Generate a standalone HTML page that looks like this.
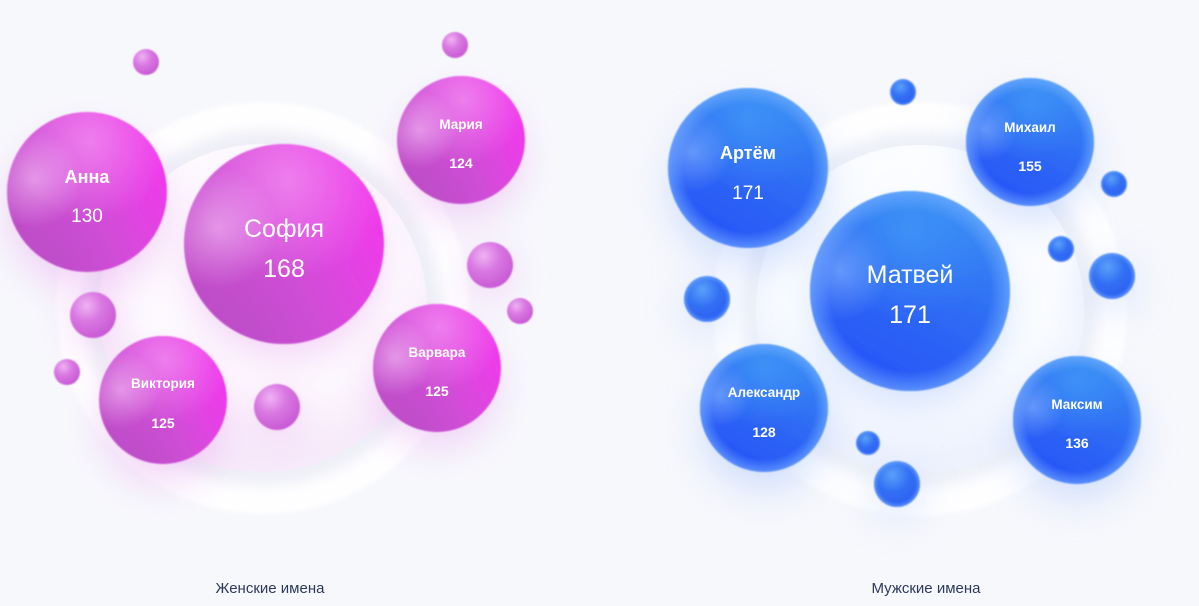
<!DOCTYPE html>
<html>
<head>
<meta charset="utf-8">
<style>
html,body{margin:0;padding:0;background:#f7f8fc;}
svg{display:block;}
text{font-family:"Liberation Sans","DejaVu Sans",sans-serif;fill:#fff;text-anchor:middle;}
.lbl{fill:#2d3a5e;font-size:15px;}
</style>
</head>
<body>
<svg width="1199" height="606" viewBox="0 0 1199 606" xmlns="http://www.w3.org/2000/svg">
<defs>
  <filter id="blur2" x="-20%" y="-20%" width="140%" height="140%"><feGaussianBlur stdDeviation="2"/></filter>
  <filter id="blur5" x="-20%" y="-20%" width="140%" height="140%"><feGaussianBlur stdDeviation="6"/></filter>
  <filter id="glow" x="-60%" y="-60%" width="220%" height="220%"><feGaussianBlur stdDeviation="20"/></filter>
  <filter id="soft" x="-10%" y="-10%" width="120%" height="120%"><feGaussianBlur stdDeviation="0.7"/></filter>

  <radialGradient id="discL" cx="0.5" cy="0.35" r="0.6">
    <stop offset="0" stop-color="#ffffff"/>
    <stop offset="0.7" stop-color="#fdf9fe"/>
    <stop offset="1" stop-color="#f7ebfa"/>
  </radialGradient>
  <radialGradient id="discR" cx="0.5" cy="0.35" r="0.6">
    <stop offset="0" stop-color="#ffffff"/>
    <stop offset="0.7" stop-color="#fafcff"/>
    <stop offset="1" stop-color="#edf2fd"/>
  </radialGradient>

  <!-- magenta -->
  <linearGradient id="mBase" x1="0.1" y1="0.8" x2="0.95" y2="0.35">
    <stop offset="0" stop-color="#c04ec8"/>
    <stop offset="0.45" stop-color="#d24fd8"/>
    <stop offset="1" stop-color="#ee3aea"/>
  </linearGradient>
  <radialGradient id="mHi1" cx="0.52" cy="0.18" r="0.5">
    <stop offset="0" stop-color="#f59bf3" stop-opacity="0.65"/>
    <stop offset="1" stop-color="#f59bf3" stop-opacity="0"/>
  </radialGradient>
  <radialGradient id="mHi2" cx="0.17" cy="0.42" r="0.3">
    <stop offset="0" stop-color="#f2c0f4" stop-opacity="0.6"/>
    <stop offset="1" stop-color="#f2c0f4" stop-opacity="0"/>
  </radialGradient>
  <radialGradient id="mLow" cx="0.35" cy="0.95" r="0.55">
    <stop offset="0" stop-color="#b548c4" stop-opacity="0.35"/>
    <stop offset="1" stop-color="#b548c4" stop-opacity="0"/>
  </radialGradient>
  <radialGradient id="smM" cx="0.36" cy="0.3" r="0.75">
    <stop offset="0" stop-color="#efb3f3"/>
    <stop offset="0.45" stop-color="#d978e2"/>
    <stop offset="1" stop-color="#c758d3"/>
  </radialGradient>

  <!-- blue -->
  <linearGradient id="bBase" x1="0.2" y1="0.95" x2="0.7" y2="0.05">
    <stop offset="0" stop-color="#2652f8"/>
    <stop offset="0.5" stop-color="#2d68f4"/>
    <stop offset="1" stop-color="#3585f4"/>
  </linearGradient>
  <radialGradient id="bHi1" cx="0.5" cy="0.2" r="0.45">
    <stop offset="0" stop-color="#44a0f8" stop-opacity="0.6"/>
    <stop offset="1" stop-color="#44a0f8" stop-opacity="0"/>
  </radialGradient>
  <radialGradient id="bHi2" cx="0.15" cy="0.4" r="0.25">
    <stop offset="0" stop-color="#8fbcff" stop-opacity="0.55"/>
    <stop offset="1" stop-color="#8fbcff" stop-opacity="0"/>
  </radialGradient>
  <radialGradient id="bRim" cx="0.5" cy="0.5" r="0.5">
    <stop offset="0" stop-color="#7ab4ff" stop-opacity="0"/>
    <stop offset="0.8" stop-color="#7ab4ff" stop-opacity="0"/>
    <stop offset="1" stop-color="#7ab4ff" stop-opacity="0.6"/>
  </radialGradient>
  <radialGradient id="smB" cx="0.4" cy="0.3" r="0.75">
    <stop offset="0" stop-color="#5aa0fa"/>
    <stop offset="0.5" stop-color="#326ff3"/>
    <stop offset="1" stop-color="#2b5ef2"/>
  </radialGradient>
</defs>

<rect width="1199" height="606" fill="#f7f8fc"/>

<!-- Left disc -->
<circle cx="263" cy="308" r="206" fill="#fefeff" filter="url(#blur2)"/>
<circle cx="263" cy="308" r="178" fill="#eff0f7" filter="url(#blur5)"/>
<circle cx="263" cy="308" r="164" fill="url(#discL)"/>

<!-- Right disc -->
<circle cx="920" cy="309" r="207" fill="#fefeff" filter="url(#blur2)"/>
<circle cx="920" cy="309" r="178" fill="#eef1f8" filter="url(#blur5)"/>
<circle cx="920" cy="309" r="164" fill="url(#discR)"/>

<!-- Glows left -->
<g filter="url(#glow)" fill="#e9a8f0" opacity="0.5">
  <circle cx="284" cy="262" r="95"/>
  <circle cx="87" cy="212" r="78"/>
  <circle cx="461" cy="158" r="60"/>
  <circle cx="163" cy="420" r="62"/>
  <circle cx="437" cy="386" r="60"/>
  <circle cx="93" cy="325" r="22"/>
  <circle cx="277" cy="417" r="22"/>
  <circle cx="490" cy="275" r="22"/>
</g>
<!-- Glows right -->
<g filter="url(#glow)" fill="#a9c4fb" opacity="0.5">
  <circle cx="910" cy="309" r="95"/>
  <circle cx="748" cy="188" r="78"/>
  <circle cx="1030" cy="160" r="60"/>
  <circle cx="764" cy="428" r="62"/>
  <circle cx="1077" cy="440" r="60"/>
  <circle cx="707" cy="309" r="22"/>
  <circle cx="897" cy="494" r="22"/>
  <circle cx="1112" cy="286" r="22"/>
</g>

<!-- Magenta small balls -->
<g filter="url(#soft)">
  <circle cx="146" cy="62" r="13" fill="url(#smM)"/>
  <circle cx="455" cy="45" r="13" fill="url(#smM)"/>
  <circle cx="490" cy="265" r="23" fill="url(#smM)"/>
  <circle cx="520" cy="311" r="13" fill="url(#smM)"/>
  <circle cx="93" cy="315" r="23" fill="url(#smM)"/>
  <circle cx="67" cy="372" r="13" fill="url(#smM)"/>
  <circle cx="277" cy="407" r="23" fill="url(#smM)"/>
</g>

<!-- Magenta bubbles -->
<g filter="url(#soft)">
  <g>
    <circle cx="284" cy="244" r="100" fill="url(#mBase)"/>
    <circle cx="284" cy="244" r="100" fill="url(#mLow)"/>
    <circle cx="284" cy="244" r="100" fill="url(#mHi1)"/>
    <circle cx="284" cy="244" r="100" fill="url(#mHi2)"/>
  </g>
  <g>
    <circle cx="87" cy="192" r="80" fill="url(#mBase)"/>
    <circle cx="87" cy="192" r="80" fill="url(#mLow)"/>
    <circle cx="87" cy="192" r="80" fill="url(#mHi1)"/>
    <circle cx="87" cy="192" r="80" fill="url(#mHi2)"/>
  </g>
  <g>
    <circle cx="461" cy="140" r="64" fill="url(#mBase)"/>
    <circle cx="461" cy="140" r="64" fill="url(#mLow)"/>
    <circle cx="461" cy="140" r="64" fill="url(#mHi1)"/>
    <circle cx="461" cy="140" r="64" fill="url(#mHi2)"/>
  </g>
  <g>
    <circle cx="163" cy="400" r="64" fill="url(#mBase)"/>
    <circle cx="163" cy="400" r="64" fill="url(#mLow)"/>
    <circle cx="163" cy="400" r="64" fill="url(#mHi1)"/>
    <circle cx="163" cy="400" r="64" fill="url(#mHi2)"/>
  </g>
  <g>
    <circle cx="437" cy="368" r="64" fill="url(#mBase)"/>
    <circle cx="437" cy="368" r="64" fill="url(#mLow)"/>
    <circle cx="437" cy="368" r="64" fill="url(#mHi1)"/>
    <circle cx="437" cy="368" r="64" fill="url(#mHi2)"/>
  </g>
</g>

<!-- Blue small balls -->
<g filter="url(#soft)">
  <circle cx="903" cy="92" r="13" fill="url(#smB)"/>
  <circle cx="1114" cy="184" r="13" fill="url(#smB)"/>
  <circle cx="1061" cy="249" r="13" fill="url(#smB)"/>
  <circle cx="1112" cy="276" r="23" fill="url(#smB)"/>
  <circle cx="707" cy="299" r="23" fill="url(#smB)"/>
  <circle cx="868" cy="443" r="12" fill="url(#smB)"/>
  <circle cx="897" cy="484" r="23" fill="url(#smB)"/>
  <circle cx="903" cy="92" r="13" fill="url(#bRim)"/>
  <circle cx="1114" cy="184" r="13" fill="url(#bRim)"/>
  <circle cx="1061" cy="249" r="13" fill="url(#bRim)"/>
  <circle cx="1112" cy="276" r="23" fill="url(#bRim)"/>
  <circle cx="707" cy="299" r="23" fill="url(#bRim)"/>
  <circle cx="868" cy="443" r="12" fill="url(#bRim)"/>
  <circle cx="897" cy="484" r="23" fill="url(#bRim)"/>
</g>

<!-- Blue bubbles -->
<g filter="url(#soft)">
  <g>
    <circle cx="910" cy="291" r="100" fill="url(#bBase)"/>
    <circle cx="910" cy="291" r="100" fill="url(#bHi1)"/>
    <circle cx="910" cy="291" r="100" fill="url(#bHi2)"/>
    <circle cx="910" cy="291" r="100" fill="url(#bRim)"/>
  </g>
  <g>
    <circle cx="748" cy="168" r="80" fill="url(#bBase)"/>
    <circle cx="748" cy="168" r="80" fill="url(#bHi1)"/>
    <circle cx="748" cy="168" r="80" fill="url(#bHi2)"/>
    <circle cx="748" cy="168" r="80" fill="url(#bRim)"/>
  </g>
  <g>
    <circle cx="1030" cy="142" r="64" fill="url(#bBase)"/>
    <circle cx="1030" cy="142" r="64" fill="url(#bHi1)"/>
    <circle cx="1030" cy="142" r="64" fill="url(#bHi2)"/>
    <circle cx="1030" cy="142" r="64" fill="url(#bRim)"/>
  </g>
  <g>
    <circle cx="764" cy="408" r="64" fill="url(#bBase)"/>
    <circle cx="764" cy="408" r="64" fill="url(#bHi1)"/>
    <circle cx="764" cy="408" r="64" fill="url(#bHi2)"/>
    <circle cx="764" cy="408" r="64" fill="url(#bRim)"/>
  </g>
  <g>
    <circle cx="1077" cy="420" r="64" fill="url(#bBase)"/>
    <circle cx="1077" cy="420" r="64" fill="url(#bHi1)"/>
    <circle cx="1077" cy="420" r="64" fill="url(#bHi2)"/>
    <circle cx="1077" cy="420" r="64" fill="url(#bRim)"/>
  </g>
</g>

<!-- Text magenta -->
<text x="284" y="237" font-size="25">София</text>
<text x="284" y="277" font-size="25">168</text>
<text x="87" y="183" font-size="18" font-weight="bold">Анна</text>
<text x="87" y="222" font-size="19">130</text>
<text x="461" y="129" font-size="13.5" font-weight="bold">Мария</text>
<text x="461" y="168" font-size="14" font-weight="bold">124</text>
<text x="163" y="388" font-size="13.5" font-weight="bold">Виктория</text>
<text x="163" y="428" font-size="14" font-weight="bold">125</text>
<text x="437" y="357" font-size="13.5" font-weight="bold">Варвара</text>
<text x="437" y="396" font-size="14" font-weight="bold">125</text>

<!-- Text blue -->
<text x="910" y="283" font-size="25">Матвей</text>
<text x="910" y="323" font-size="25">171</text>
<text x="748" y="159" font-size="18" font-weight="bold">Артём</text>
<text x="748" y="199" font-size="19">171</text>
<text x="1030" y="132" font-size="13.5" font-weight="bold">Михаил</text>
<text x="1030" y="171" font-size="14" font-weight="bold">155</text>
<text x="764" y="397" font-size="13.5" font-weight="bold">Александр</text>
<text x="764" y="437" font-size="14" font-weight="bold">128</text>
<text x="1077" y="409" font-size="13.5" font-weight="bold">Максим</text>
<text x="1077" y="448" font-size="14" font-weight="bold">136</text>

<!-- Labels -->
<text class="lbl" x="270" y="593">Женские имена</text>
<text class="lbl" x="926" y="593">Мужские имена</text>
</svg>
</body>
</html>
